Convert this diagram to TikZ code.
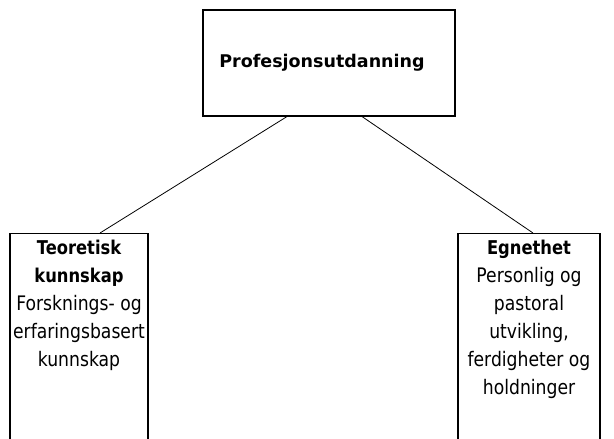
\documentclass[tikz,border=0pt]{standalone}
\usepackage{fontspec}
\setmainfont{DejaVu Sans}
\newfontfamily\sidefont[FakeStretch=0.86]{DejaVu Sans}
\usetikzlibrary{positioning}

\tikzset{
  box/.style={draw, line width=1.1pt, inner sep=0pt},
  link/.style={line width=0.8pt},
}
\newcommand{\sidetext}[2]{\parbox[t][230pt][t]{#1}{\centering
  \sidefont\fontsize{20}{28}\selectfont\vspace*{7pt}#2}}
\newcommand{\headtext}[1]{{\fontsize{17.5}{28}\selectfont\bfseries #1}}
\newcommand{\sidehead}[1]{{\fontsize{19}{28}\selectfont\bfseries #1}}

\begin{document}
\begin{tikzpicture}[x=1pt,y=-1pt]
\useasboundingbox (0,0) rectangle (614,439);
\clip (0,0) rectangle (614,439);
%
\node[box, minimum width=252pt, minimum height=106pt] (prof) at (329,63)
  {\headtext{Profesjonsutdanning}\hspace*{14pt}};
%
\node[box, anchor=north] (teori) at (79,233)
  {\sidetext{138pt}{\sidehead{Teoretisk\\ kunnskap}\\ Forsknings- og\\ erfaringsbasert\\ kunnskap}};
\node[box, anchor=north] (egnet) at (529,233)
  {\sidetext{142pt}{\sidehead{Egnethet}\\ Personlig og\\ pastoral\\ utvikling,\\ ferdigheter og\\ holdninger}};
%
\draw[link] ([xshift=-42pt]prof.south) -- ([xshift=21pt]teori.north);
\draw[link] ([xshift=33pt]prof.south) -- ([xshift=4pt]egnet.north);
\end{tikzpicture}
\end{document}
